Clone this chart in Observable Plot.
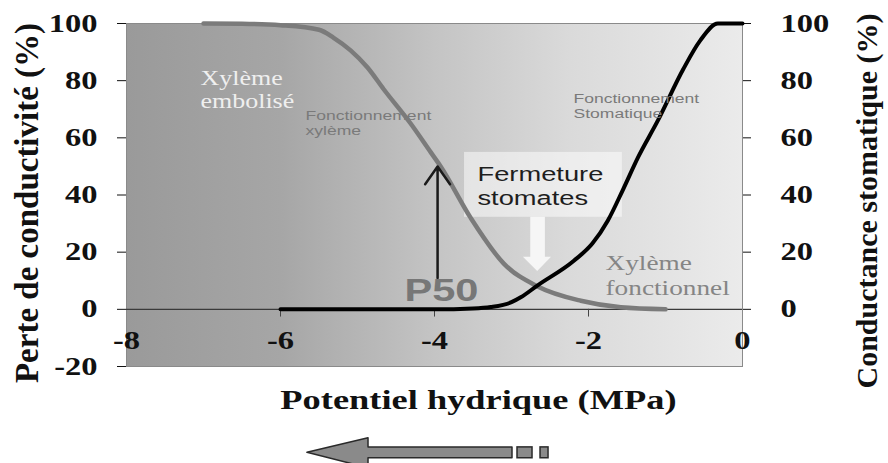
<!DOCTYPE html>
<html><head><meta charset="utf-8">
<script src="https://cdn.jsdelivr.net/npm/d3@7"></script>
<script src="https://cdn.jsdelivr.net/npm/@observablehq/plot@0.6"></script>
<style>body{margin:0;background:#fff}</style>
</head><body><div id="chart"></div>
<script>
// ---- data ----
const xTicks = [-8, -6, -4, -2, 0];
const yTicksLeft = [-20, 0, 20, 40, 60, 80, 100];
const yTicksRight = [0, 20, 40, 60, 80, 100];

// Perte de conductivité (gray curve)
const lossX = [-7, -6.5, -6, -5.5, -5.31, -5.09, -4.87, -4.66, -4.31, -4.05, -3.92, -3.53, -3.1, -2.66, -2.1, -1.58, -1.0];
const lossY = [100, 99.9, 99.4, 97.8, 95, 90.6, 84.6, 77, 65, 55, 50, 32, 16, 8, 3, 0.7, 0];

// Conductance stomatique (black curve)
const condX = [-6, -5, -4, -3.5, -3.27, -3.0, -2.88, -2.66, -2.19, -1.95, -1.75, -1.55, -1.36, -1.1, -0.77, -0.55, -0.32, 0];
const condY = [0, 0, 0, 0.3, 0.8, 2.5, 4.2, 8.4, 17, 23, 31, 42, 53, 66, 84, 94, 100, 100];

// P50 arrow
const p50 = [{x: -3.96, from: 11, to: 50}];

// annotation box "Fermeture stomates"
const closeBox = [{x1: -3.61, x2: -1.56, y1: 32.2, y2: 54.9}];
const closeArrow = [
  {y: 32.2, x1: -2.75, x2: -2.56},
  {y: 18.2, x1: -2.75, x2: -2.56},
  {y: 18.2, x1: -2.845, x2: -2.48},
  {y: 13.2, x1: -2.66, x2: -2.66}
];

// bottom direction arrow (below the plot)
const dirArrow = [
  {x: -5.65, y1: -50.2, y2: -50.2},
  {x: -4.857, y1: -55.6, y2: -45.1},
  {x: -4.857, y1: -52.1, y2: -48.3},
  {x: -2.987, y1: -52.1, y2: -48.3}
];
const dirSquares = [
  {x1: -2.922, x2: -2.727, y1: -52.1, y2: -48.3},
  {x1: -2.623, x2: -2.519, y1: -52.1, y2: -48.3}
];

const lossData = lossX.map((x, i) => ({x, y: lossY[i]}));
const condData = condX.map((x, i) => ({x, y: condY[i]}));

const bgStops = [[0, "#9a9a9a"], [0.25, "#a6a6a6"], [0.5, "#c4c4c4"], [0.72, "#dadada"], [1, "#ebebeb"]];
function gradientDefs() {
  const defs = d3.create("svg:defs");
  const g = defs.append("linearGradient").attr("id", "bggrad")
    .attr("x1", 0).attr("x2", 1).attr("y1", 0).attr("y2", 0);
  bgStops.forEach(([o, c]) => g.append("stop").attr("offset", o).attr("stop-color", c));
  return defs.node();
}

const serif = "Liberation Serif";
const sans = "Liberation Sans";

const chart = Plot.plot({
  width: 888, height: 463,
  marginLeft: 126, marginRight: 146, marginTop: 23, marginBottom: 97,
  style: {fontFamily: serif, background: "#fff", overflow: "hidden"},
  x: {domain: [-8, 0], axis: null},
  y: {domain: [-20, 100], axis: null},
  marks: [
    gradientDefs,
    Plot.frame({fill: "url(#bggrad)", stroke: "#8a8a8a"}),
    Plot.ruleY([0], {stroke: "#3a3a3a", strokeWidth: 1.2}),
    Plot.axisY(yTicksLeft, {anchor: "left", tickSize: 9, tickPadding: 20, tickFormat: d => String(d),
      fontSize: 25, fontWeight: "bold", fontFamily: serif, color: "#111", label: null}),
    Plot.axisY(yTicksRight, {anchor: "right", tickSize: 8, tickPadding: 30, tickFormat: d => String(d),
      fontSize: 25, fontWeight: "bold", fontFamily: serif, color: "#111", label: null}),
    Plot.ruleX(xTicks.filter(d => d > -8 && d < 0), {x: d => d, y1: 0, y2: -2.7, stroke: "#444"}),
    Plot.text(xTicks, {x: d => d, y: -11, text: d => String(d), fontSize: 25, fontWeight: "bold",
      fontFamily: serif, fill: "#111"}),
    // annotation box
    Plot.rect(closeBox, {x1: "x1", x2: "x2", y1: "y1", y2: "y2", fill: "#fff", fillOpacity: 0.5}),
    Plot.areaX(closeArrow, {y: "y", x1: "x1", x2: "x2", fill: "#fafafa", fillOpacity: 0.9, curve: "linear"}),
    // curves
    Plot.line(lossData, {x: "x", y: "y", stroke: "#7b7b7b", strokeWidth: 4.5, curve: "monotone-x"}),
    Plot.line(condData, {x: "x", y: "y", stroke: "#000", strokeWidth: 4, curve: "monotone-x"}),
    Plot.arrow(p50, {x1: "x", x2: "x", y1: "from", y2: "to", stroke: "#1a1a1a", strokeWidth: 2.5,
      headLength: 13, headAngle: 70}),
    // texts
    Plot.text(["P50"], {x: -3.91, y: 6.6, text: d => d, fontFamily: sans, fontWeight: "bold",
      fontSize: 32, fill: "#777"}),
    Plot.text(["Xylème\nembolisé"], {x: -7.04, y: 77.1, text: d => d, textAnchor: "start",
      fontFamily: serif, fontSize: 20, lineHeight: 1.15, fill: "#efefef"}),
    Plot.text(["Fonctionnement\nxylème"], {x: -5.675, y: 65.2, text: d => d, textAnchor: "start",
      fontFamily: sans, fontSize: 13.5, lineHeight: 1.1, fill: "#7a7a7a"}),
    Plot.text(["Fonctionnement\nStomatique"], {x: -2.195, y: 71.2, text: d => d, textAnchor: "start",
      fontFamily: sans, fontSize: 13.5, lineHeight: 1.1, fill: "#7a7a7a"}),
    Plot.text(["Fermeture\nstomates"], {x: -3.442, y: 43.5, text: d => d, textAnchor: "start",
      fontFamily: sans, fontSize: 21, lineHeight: 1.19, fill: "#1e1e1e"}),
    Plot.text(["Xylème\nfonctionnel"], {x: -1.779, y: 12.1, text: d => d, textAnchor: "start",
      fontFamily: serif, fontSize: 21, lineHeight: 1.19, fill: "#858585"}),
    // axis titles
    Plot.text(["Perte de conductivité (%)"], {frameAnchor: "left", textAnchor: "middle", dx: -99, dy: 8,
      rotate: -90, fontFamily: serif, fontWeight: "bold", fontSize: 33, fill: "#111"}),
    Plot.text(["Conductance stomatique (%)"], {frameAnchor: "right", textAnchor: "middle", dx: 125, dy: 6,
      rotate: -90, fontFamily: serif, fontWeight: "bold", fontSize: 30, fill: "#111"}),
    Plot.text(["Potentiel hydrique (MPa)"], {frameAnchor: "bottom", textAnchor: "middle", dx: 44, dy: 42,
      fontFamily: serif, fontWeight: "bold", fontSize: 28, fill: "#111"}),
    // direction arrow
    Plot.areaY(dirArrow, {x: "x", y1: "y1", y2: "y2", fill: "#8a8a8a", stroke: "#2a2a2a",
      strokeWidth: 1.5, curve: "linear"}),
    Plot.rect(dirSquares, {x1: "x1", x2: "x2", y1: "y1", y2: "y2", fill: "#8a8a8a", stroke: "#2a2a2a",
      strokeWidth: 1.5})
  ]
});

// the source image is horizontally stretched: widen upright text
chart.querySelectorAll("text").forEach(t => {
  const tr = t.getAttribute("transform") || "";
  if (!/rotate/.test(tr)) t.setAttribute("transform", (tr + " scale(1.3,1)").trim());
});
document.getElementById("chart").appendChild(chart);
</script>
</body></html>
